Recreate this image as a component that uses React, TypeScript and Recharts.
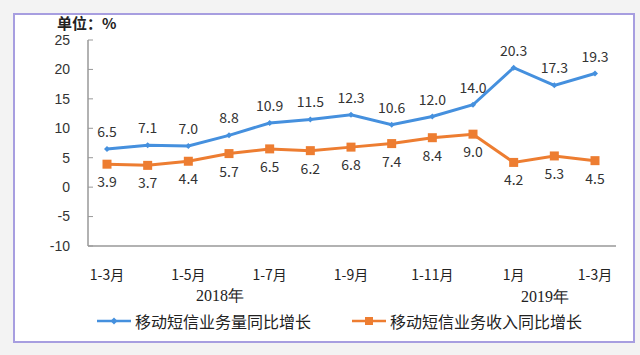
import { LineChart, Line, XAxis, YAxis, LabelList } from 'recharts';

const categories = ['1-3月', '1-4月', '1-5月', '1-6月', '1-7月', '1-8月', '1-9月', '1-10月', '1-11月', '1-12月', '1月', '1-2月', '1-3月'];
const volumeGrowth = [6.5, 7.1, 7.0, 8.8, 10.9, 11.5, 12.3, 10.6, 12.0, 14.0, 20.3, 17.3, 19.3];
const revenueGrowth = [3.9, 3.7, 4.4, 5.7, 6.5, 6.2, 6.8, 7.4, 8.4, 9.0, 4.2, 5.3, 4.5];
const yTicks = [-10, -5, 0, 5, 10, 15, 20, 25];

const VOLUME = '移动短信业务量同比增长';
const REVENUE = '移动短信业务收入同比增长';
const BLUE = '#4590de';
const ORANGE = '#ed7d31';

const chartData = categories.map((name, i) => ({
  name,
  [VOLUME]: volumeGrowth[i],
  [REVENUE]: revenueGrowth[i],
}));

const FONT = '"Microsoft YaHei", "Noto Sans CJK SC", "Noto Sans", sans-serif';
const NUM_FONT = '"Liberation Sans", Arial, sans-serif';

function Diamond({ cx, cy, color, r = 3.5 }: any) {
  if (cx == null || cy == null) return null;
  return <path d={`M${cx},${cy - r}L${cx + r},${cy}L${cx},${cy + r}L${cx - r},${cy}Z`} fill={color} />;
}

function Square({ cx, cy, color, s = 4.5 }: any) {
  if (cx == null || cy == null) return null;
  return <rect x={cx - s} y={cy - s} width={s * 2} height={s * 2} fill={color} />;
}

// y tick: label on the left, short tick mark pointing into the plot
function YTick({ x, y, payload }: any) {
  const axisX = x + 18;
  return (
    <g>
      <line x1={axisX} x2={axisX + 5} y1={y} y2={y} stroke="#999" />
      <text x={x} y={y} dy="0.35em" textAnchor="end" fontSize={14} fill="#333" fontFamily={NUM_FONT}>
        {payload.value}
      </text>
    </g>
  );
}

function ChartLegend() {
  const items = [
    { name: VOLUME, color: BLUE, marker: 'diamond', left: 97 },
    { name: REVENUE, color: ORANGE, marker: 'square', left: 352 },
  ];
  return (
    <>
      {items.map((it) => (
        <div
          key={it.name}
          style={{ position: 'absolute', left: it.left, top: 311, display: 'flex', alignItems: 'center', whiteSpace: 'nowrap' }}
        >
          <svg width={36} height={12}>
            <line x1={0} x2={34} y1={6} y2={6} stroke={it.color} strokeWidth={2.5} />
            {it.marker === 'diamond' ? <Diamond cx={17} cy={6} color={it.color} /> : <Square cx={17} cy={6} color={it.color} s={4} />}
          </svg>
          <span style={{ fontSize: 16, lineHeight: '20px', color: '#222', fontFamily: FONT, marginLeft: 2 }}>{it.name}</span>
        </div>
      ))}
    </>
  );
}

export default function App() {
  return (
    <div style={{ position: 'absolute', left: 0, top: 0, width: 640, height: 355, background: '#f3f3f3', overflow: 'hidden' }}>
      <div
        style={{
          position: 'absolute',
          left: 13,
          top: 13,
          width: 618,
          height: 326,
          border: '2px solid #a79ee0',
          background: '#fff',
        }}
      />
      <div style={{ position: 'absolute', left: 57, top: 15, fontSize: 15, lineHeight: '15px', fontWeight: 700, color: '#222', fontFamily: FONT }}>
        单位：%
      </div>
      <div style={{ position: 'absolute', left: 196, top: 287, fontSize: 16, lineHeight: '18px', color: '#222', fontFamily: '"Liberation Serif", serif' }}>
        2018年
      </div>
      <div style={{ position: 'absolute', left: 521, top: 288, fontSize: 16, lineHeight: '18px', color: '#222', fontFamily: '"Liberation Serif", serif' }}>
        2019年
      </div>
      <ChartLegend />
      <div style={{ position: 'absolute', left: 0, top: 0 }}>
        <LineChart width={640} height={355} data={chartData} margin={{ top: 40, right: 24, bottom: 69, left: 48 }}>
          <XAxis
            dataKey="name"
            interval={1}
            padding={{ left: 19, right: 21 }}
            axisLine={{ stroke: '#999', strokeWidth: 1.5 }}
            tickLine={false}
            tickSize={0}
            tickMargin={24}
            tick={{ fontSize: 14, fill: '#222', fontFamily: FONT }}
            height={40}
          />
          <YAxis
            domain={[-10, 25]}
            ticks={yTicks}
            width={40}
            axisLine={{ stroke: '#999', strokeWidth: 1.5 }}
            tickLine={false}
            tickSize={0}
            tickMargin={18}
            tick={<YTick />}
          />
          <Line
            dataKey={VOLUME}
            stroke={BLUE}
            strokeWidth={3}
            dot={<Diamond color={BLUE} />}
            activeDot={false}
            isAnimationActive={false}
          >
            <LabelList
              dataKey={VOLUME}
              position="top"
              offset={12}
              formatter={(v: any) => Number(v).toFixed(1)}
              style={{ fontSize: 14, fill: '#333', fontFamily: FONT }}
            />
          </Line>
          <Line
            dataKey={REVENUE}
            stroke={ORANGE}
            strokeWidth={3}
            dot={<Square color={ORANGE} />}
            activeDot={false}
            isAnimationActive={false}
          >
            <LabelList
              dataKey={REVENUE}
              position="bottom"
              offset={13}
              formatter={(v: any) => Number(v).toFixed(1)}
              style={{ fontSize: 14, fill: '#333', fontFamily: FONT }}
            />
          </Line>
        </LineChart>
      </div>
    </div>
  );
}
